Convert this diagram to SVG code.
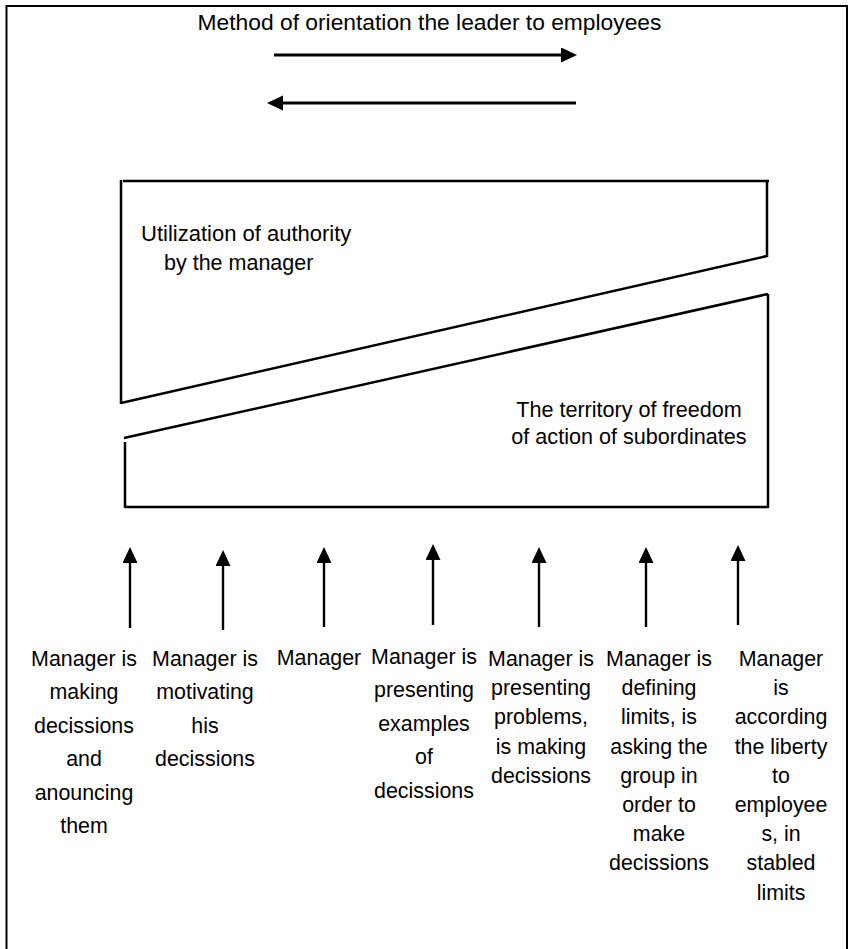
<svg xmlns="http://www.w3.org/2000/svg" width="852" height="949" viewBox="0 0 852 949">
  <style>
    text { font-family: "Liberation Sans", Arial, sans-serif; fill: #000; }
    .t { font-size: 21.4px; text-anchor: middle; }
    .shape { fill: none; stroke: #000; stroke-width: 2.5; stroke-linecap: butt; }
    .arr { fill: none; stroke: #000; stroke-width: 2.8; }
    .up { fill: none; stroke: #000; stroke-width: 2.4; }
  </style>
  <defs>
    <marker id="head" markerUnits="userSpaceOnUse" markerWidth="16" markerHeight="16" refX="2" refY="7.5" orient="auto">
      <path d="M0,0 L16,7.5 L0,15 Z" fill="#000"/>
    </marker>
  </defs>
  <rect width="852" height="949" fill="#fff"/>
  <rect x="6.5" y="6" width="840.5" height="960" fill="none" stroke="#000" stroke-width="2"/>

  <g id="title">
    <text x="429.5" y="30" font-size="22.8" text-anchor="middle">Method of orientation the leader to employees</text>
  </g>

  <g id="authority">
    <path class="shape" d="M123,181 H769 M121,180 V404 M767,181 V257 M121,403 L767,256"/>
    <text x="141" y="241" font-size="22">Utilization of authority</text>
    <text x="164" y="270" font-size="21.5">by the manager</text>
  </g>

  <g id="freedom">
    <path class="shape" d="M124,438 L768,294 M125,442 V508 M768,294 V508 M125,507 H769"/>
    <text x="629" y="417" font-size="21.6" text-anchor="middle">The territory of freedom</text>
    <text x="629" y="444" font-size="21.6" text-anchor="middle">of action of subordinates</text>
  </g>

  <g id="connectors">
    <line class="arr" x1="274" y1="55" x2="563" y2="55" marker-end="url(#head)"/>
    <line class="arr" x1="576" y1="103" x2="281" y2="103" marker-end="url(#head)"/>
    <line class="up" x1="130" y1="628" x2="130" y2="561" marker-end="url(#head)"/>
    <line class="up" x1="223" y1="630" x2="223" y2="564" marker-end="url(#head)"/>
    <line class="up" x1="324" y1="627" x2="324" y2="561" marker-end="url(#head)"/>
    <line class="up" x1="433" y1="625" x2="433" y2="558" marker-end="url(#head)"/>
    <line class="up" x1="539" y1="627" x2="539" y2="561" marker-end="url(#head)"/>
    <line class="up" x1="646" y1="627" x2="646" y2="561" marker-end="url(#head)"/>
    <line class="up" x1="738" y1="625" x2="738" y2="559" marker-end="url(#head)"/>
  </g>

  <g id="style1">
    <text class="t" x="84" y="666">Manager is</text>
    <text class="t" x="84" y="699.4">making</text>
    <text class="t" x="84" y="732.8">decissions</text>
    <text class="t" x="84" y="766.2">and</text>
    <text class="t" x="84" y="799.6">anouncing</text>
    <text class="t" x="84" y="833">them</text>
  </g>
  <g id="style2">
    <text class="t" x="205" y="666">Manager is</text>
    <text class="t" x="205" y="699.4">motivating</text>
    <text class="t" x="205" y="732.8">his</text>
    <text class="t" x="205" y="766.2">decissions</text>
  </g>
  <g id="style3">
    <text class="t" x="319" y="665">Manager</text>
  </g>
  <g id="style4">
    <text class="t" x="424" y="664">Manager is</text>
    <text class="t" x="424" y="697.4">presenting</text>
    <text class="t" x="424" y="730.8">examples</text>
    <text class="t" x="424" y="764.2">of</text>
    <text class="t" x="424" y="797.6">decissions</text>
  </g>
  <g id="style5">
    <text class="t" x="541" y="666">Manager is</text>
    <text class="t" x="541" y="695.2">presenting</text>
    <text class="t" x="541" y="724.4">problems,</text>
    <text class="t" x="541" y="753.6">is making</text>
    <text class="t" x="541" y="782.8">decissions</text>
  </g>
  <g id="style6">
    <text class="t" x="659" y="666">Manager is</text>
    <text class="t" x="659" y="695.2">defining</text>
    <text class="t" x="659" y="724.4">limits, is</text>
    <text class="t" x="659" y="753.6">asking the</text>
    <text class="t" x="659" y="782.8">group in</text>
    <text class="t" x="659" y="812">order to</text>
    <text class="t" x="659" y="841.2">make</text>
    <text class="t" x="659" y="870.4">decissions</text>
  </g>
  <g id="style7">
    <text class="t" x="781" y="666">Manager</text>
    <text class="t" x="781" y="695.2">is</text>
    <text class="t" x="781" y="724.4">according</text>
    <text class="t" x="781" y="753.6">the liberty</text>
    <text class="t" x="781" y="782.8">to</text>
    <text class="t" x="781" y="812">employee</text>
    <text class="t" x="781" y="841.2">s, in</text>
    <text class="t" x="781" y="870.4">stabled</text>
    <text class="t" x="781" y="899.6">limits</text>
  </g>
</svg>
